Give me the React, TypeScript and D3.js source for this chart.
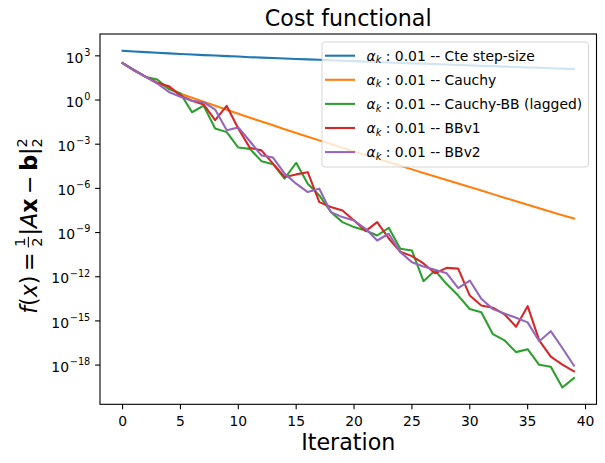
import React, { useEffect, useRef } from 'react';
import * as d3 from 'd3';

// cost per iteration, one array per step-size rule
const cteStep = [
  2.19e3, 1.95e3, 1.78e3, 1.62e3, 1.48e3, 1.35e3, 1.23e3, 1.12e3, 1.05e3, 9.55e2,
  8.91e2, 8.13e2, 7.59e2, 7.08e2, 6.61e2, 6.17e2, 5.75e2, 5.37e2, 5.01e2, 4.68e2,
  4.37e2, 4.07e2, 3.8e2, 3.55e2, 3.31e2, 3.09e2, 2.95e2, 2.75e2, 2.57e2, 2.4e2,
  2.24e2, 2.09e2, 2.0e2, 1.86e2, 1.74e2, 1.62e2, 1.55e2, 1.45e2, 1.35e2, 1.26e2,
];
const cauchy = [
  3.31e2, 1.05e2, 3.72e1, 1.48e1, 6.31, 2.69, 1.41, 7.59e-1, 4.07e-1, 2.19e-1,
  1.17e-1, 6.31e-2, 3.47e-2, 1.91e-2, 1.05e-2, 5.75e-3, 3.24e-3, 1.82e-3, 1.02e-3, 5.75e-4,
  3.24e-4, 1.82e-4, 1.05e-4, 5.89e-5, 3.39e-5, 1.95e-5, 1.12e-5, 6.46e-6, 3.72e-6, 2.14e-6,
  1.23e-6, 7.08e-7, 4.07e-7, 2.34e-7, 1.35e-7, 7.76e-8, 4.47e-8, 2.57e-8, 1.51e-8, 9.12e-9,
];
const cauchyBB = [
  3.16e2, 1.05e2, 3.72e1, 2.45e1, 5.62, 2.82, 1.48e-1, 4.17e-1, 1.17e-2, 6.61e-3,
  5.89e-4, 4.79e-4, 7.08e-5, 4.37e-5, 4.57e-6, 5.5e-5, 2.09e-6, 3.31e-7, 2.51e-8, 5.13e-9,
  2.34e-9, 1.38e-9, 6.31e-10, 2.09e-9, 7.94e-11, 6.03e-11, 5.01e-13, 2.63e-12, 3.16e-13, 5.25e-14,
  6.46e-15, 3.89e-15, 1.26e-16, 4.79e-17, 7.59e-18, 1.2e-17, 1.05e-18, 7.76e-19, 3.02e-20, 1.32e-19,
];
const bbv1 = [
  3.16e2, 1.05e2, 3.72e1, 1.48e1, 8.71, 2.0, 8.91e-1, 5.01e-1, 4.27e-2, 3.98e-1,
  1.15e-2, 5.62e-4, 3.8e-4, 4.79e-5, 5.89e-6, 8.91e-6, 1.26e-5, 1.17e-7, 5.37e-8, 3.16e-8,
  6.61e-9, 1.26e-9, 5.13e-9, 3.98e-10, 5.01e-11, 2.51e-11, 7.94e-12, 1.74e-12, 3.98e-12, 3.55e-12,
  5.25e-14, 1.12e-14, 7.94e-15, 2.82e-15, 3.98e-16, 1.0e-14, 4.79e-17, 3.72e-18, 1.07e-18, 3.72e-19,
];
const bbv2 = [
  3.16e2, 1.05e2, 3.72e1, 1.32e1, 3.55, 1.66, 8.91e-1, 7.08e-1, 2.24e-1, 8.91e-3,
  1.38e-2, 1.58e-3, 1.74e-4, 1.23e-4, 1.0e-5, 2.09e-6, 5.62e-7, 9.55e-7, 2.45e-8, 1.12e-8,
  6.61e-9, 1.82e-9, 2.88e-10, 8.32e-10, 4.68e-11, 9.77e-12, 4.9e-12, 2.95e-12, 1.74e-12, 1.66e-13,
  5.5e-13, 3.16e-14, 6.31e-15, 3.16e-15, 1.66e-15, 7.94e-16, 4.17e-17, 2.0e-16, 1.45e-17, 9.12e-19,
];

const seriesLabels = ['Cte step-size', 'Cauchy', 'Cauchy-BB (lagged)', 'BBv1', 'BBv2'];
const seriesColors = ['#1f77b4', '#ff7f0e', '#2ca02c', '#d62728', '#9467bd'];
const alphaValue = '0.01';
const xTicks = [0, 5, 10, 15, 20, 25, 30, 35, 40];
const yTickExponents = [3, 0, -3, -6, -9, -12, -15, -18];

const W = 605;
const H = 463;
const FONT = "'DejaVu Sans', sans-serif";

const App: React.FC = () => {
  const svgRef = useRef<SVGSVGElement>(null);

  useEffect(() => {
    if (!svgRef.current) return;
    const svg = d3.select(svgRef.current);
    svg.selectAll('*').remove();

    const left = 100, right = 596.5, top = 34, bottom = 404.3;
    const series = [cteStep, cauchy, cauchyBB, bbv1, bbv2];
    const n = cteStep.length;

    // matplotlib-like 5% autoscale margins
    const xPad = (n - 1) * 0.05;
    const x = d3.scaleLinear().domain([-xPad, n - 1 + xPad]).range([left, right]);
    const allVals = series.flat();
    const lo = Math.log10(d3.min(allVals) as number);
    const hi = Math.log10(d3.max(allVals) as number);
    const yPad = (hi - lo) * 0.05;
    const y = d3.scaleLog().domain([10 ** (lo - yPad), 10 ** (hi + yPad)]).range([bottom, top]);

    svg.append('rect').attr('width', W).attr('height', H).attr('fill', '#fff');

    const line = d3.line<number>().x((_, i) => x(i)).y(d => y(d));
    series.forEach((vals, k) => {
      svg.append('path')
        .datum(vals)
        .attr('d', line)
        .attr('fill', 'none')
        .attr('stroke', seriesColors[k])
        .attr('stroke-width', 2.08)
        .attr('stroke-linejoin', 'round')
        .attr('stroke-linecap', 'square');
    });

    // spines
    svg.append('rect')
      .attr('x', left).attr('y', top)
      .attr('width', right - left).attr('height', bottom - top)
      .attr('fill', 'none').attr('stroke', '#000').attr('stroke-width', 1.1);

    // x ticks
    const xt = svg.append('g').attr('font-family', FONT).attr('font-size', 13.9);
    xTicks.forEach(t => {
      xt.append('line')
        .attr('x1', x(t)).attr('x2', x(t))
        .attr('y1', bottom).attr('y2', bottom + 4.9)
        .attr('stroke', '#000').attr('stroke-width', 1.1);
      xt.append('text')
        .attr('x', x(t)).attr('y', 425.5)
        .attr('text-anchor', 'middle')
        .text(String(t));
    });

    // y ticks, 10^k labels
    const yt = svg.append('g').attr('font-family', FONT).attr('font-size', 13.9);
    yTickExponents.forEach(e => {
      const py = y(10 ** e);
      yt.append('line')
        .attr('x1', left - 4.9).attr('x2', left)
        .attr('y1', py).attr('y2', py)
        .attr('stroke', '#000').attr('stroke-width', 1.1);
      const txt = yt.append('text')
        .attr('x', 90.3).attr('y', py + 6.7)
        .attr('text-anchor', 'end');
      txt.append('tspan').text('10');
      txt.append('tspan')
        .attr('font-size', 9.7)
        .attr('dy', -6.9)
        .attr('dx', 0.8)
        .text(e < 0 ? `\u2212${-e}` : String(e));
    });

    // title and x label
    svg.append('text')
      .attr('x', (left + right) / 2).attr('y', 26)
      .attr('text-anchor', 'middle')
      .attr('font-family', FONT).attr('font-size', 22.2)
      .text('Cost functional');

    svg.append('text')
      .attr('x', (left + right) / 2).attr('y', 450)
      .attr('text-anchor', 'middle')
      .attr('font-family', FONT).attr('font-size', 22.2)
      .text('Iteration');

    // y label: f(x) = 1/2 |Ax - b|_2^2, laid out piece by piece then rotated
    const lab = svg.append('g').attr('font-family', FONT).attr('fill', '#000');
    let cx = 0;
    const piece = (t: string, style = 'normal', weight = 'normal', size = 22.2, dy = 0, advance = true) => {
      const el = lab.append('text')
        .attr('x', cx).attr('y', dy)
        .attr('font-size', size)
        .attr('font-style', style)
        .attr('font-weight', weight)
        .text(t);
      const w = (el.node() as SVGTextElement).getComputedTextLength();
      if (advance) cx += w;
      return w;
    };
    piece('f', 'italic');
    piece('(');
    piece('x', 'italic');
    piece(')');
    cx += 4.5;
    piece('=');
    cx += 5;
    const fw = 10.5;
    lab.append('text').attr('x', cx + fw / 2).attr('y', -12.5)
      .attr('text-anchor', 'middle').attr('font-size', 14.5).text('1');
    lab.append('text').attr('x', cx + fw / 2).attr('y', 4.5)
      .attr('text-anchor', 'middle').attr('font-size', 14.5).text('2');
    lab.append('rect').attr('x', cx).attr('y', -9.2).attr('width', fw).attr('height', 1.1);
    cx += fw + 1.5;
    piece('|');
    piece('A', 'italic');
    piece('x', 'normal', 'bold');
    cx += 4.5;
    piece('\u2212');
    cx += 4.5;
    piece('b', 'normal', 'bold');
    piece('|');
    // stacked sub/superscript 2s
    piece('2', 'normal', 'normal', 14.5, -10.5, false);
    piece('2', 'normal', 'normal', 14.5, 5);
    lab.attr('transform', `translate(37,${226 + cx / 2}) rotate(-90)`);

    // legend
    const legX = 322, legY = 42, legW = 266.5, legH = 125;
    const leg = svg.append('g');
    leg.append('rect')
      .attr('x', legX).attr('y', legY)
      .attr('width', legW).attr('height', legH)
      .attr('rx', 3)
      .attr('fill', '#fff').attr('fill-opacity', 0.8)
      .attr('stroke', '#cccccc').attr('stroke-opacity', 0.8).attr('stroke-width', 1);
    seriesLabels.forEach((label, k) => {
      const ry = 55.7 + k * 24.1;
      leg.append('line')
        .attr('x1', 326).attr('x2', 354)
        .attr('y1', ry).attr('y2', ry)
        .attr('stroke', seriesColors[k]).attr('stroke-width', 2.08)
        .attr('stroke-linecap', 'square');
      const t = leg.append('text')
        .attr('x', 366.5).attr('y', ry + 5)
        .attr('font-family', FONT).attr('font-size', 13.9)
        .style('white-space', 'pre');
      t.append('tspan').attr('font-style', 'italic').text('\u03b1');
      t.append('tspan').attr('font-style', 'italic').attr('font-size', 9.7).attr('dy', 2.6).text('k');
      t.append('tspan').attr('dy', -2.6).text(` : ${alphaValue} -- ${label}`);
    });
  }, []);

  return (
    <div style={{ position: 'absolute', left: 0, top: 0 }}>
      <svg ref={svgRef} width={W} height={H} style={{ display: 'block' }} />
    </div>
  );
};

export default App;
